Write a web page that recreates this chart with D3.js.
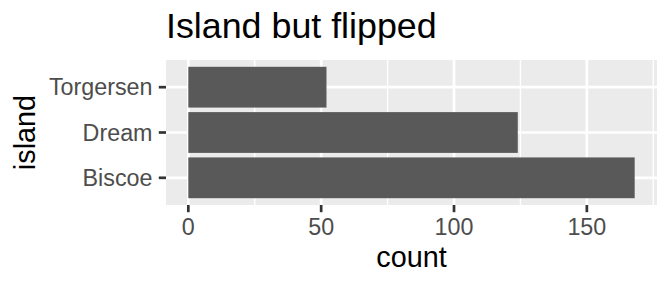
<!DOCTYPE html>
<html><head><meta charset="utf-8">
<script src="https://cdn.jsdelivr.net/npm/d3@7"></script>
<style>body{margin:0;background:#fff}svg{display:block}text{font-family:"Liberation Sans",Arial,sans-serif}</style>
</head><body>
<svg id="c" width="672" height="288"></svg>
<script>
const islands = ["Biscoe", "Dream", "Torgersen"];
const counts = [168, 124, 52];
const xTicks = [0, 50, 100, 150];
const xMinor = [25, 75, 125, 175];

const svg = d3.select("#c");
const L = 166, R = 657, T = 60, B = 205;
const maxV = d3.max(counts);
const x = d3.scaleLinear().domain([-0.05 * maxV, maxV * 1.05]).range([L, R]);
const y = d3.scaleLinear().domain([0.4, islands.length + 0.6]).range([B, T]);

svg.append("rect").attr("x", L).attr("y", T).attr("width", R - L).attr("height", B - T).attr("fill", "#EBEBEB");
svg.selectAll(".minor").data(xMinor).join("line")
  .attr("x1", d => x(d)).attr("x2", d => x(d)).attr("y1", T).attr("y2", B)
  .attr("stroke", "#fff").attr("stroke-width", 1.35);
svg.selectAll(".majx").data(xTicks).join("line")
  .attr("x1", d => x(d)).attr("x2", d => x(d)).attr("y1", T).attr("y2", B)
  .attr("stroke", "#fff").attr("stroke-width", 2.7);
svg.selectAll(".majy").data(islands).join("line")
  .attr("x1", L).attr("x2", R).attr("y1", (d, i) => y(i + 1)).attr("y2", (d, i) => y(i + 1))
  .attr("stroke", "#fff").attr("stroke-width", 2.7);

svg.selectAll(".bar").data(counts).join("rect")
  .attr("x", x(0)).attr("width", d => x(d) - x(0))
  .attr("y", (d, i) => y(i + 1 + 0.45)).attr("height", (d, i) => y(i + 1 - 0.45) - y(i + 1 + 0.45))
  .attr("fill", "#595959");

// y ticks
svg.selectAll(".yt").data(islands).join("line")
  .attr("x1", L - 7.2).attr("x2", L).attr("y1", (d, i) => y(i + 1)).attr("y2", (d, i) => y(i + 1))
  .attr("stroke", "#333").attr("stroke-width", 2.7);
svg.selectAll(".yl").data(islands).join("text")
  .attr("x", 152.5).attr("y", (d, i) => y(i + 1)).attr("dy", "0.355em")
  .attr("text-anchor", "end").attr("font-size", 23.3).attr("fill", "#4D4D4D").text(d => d);

// x ticks
svg.selectAll(".xt").data(xTicks).join("line")
  .attr("x1", d => x(d)).attr("x2", d => x(d)).attr("y1", B).attr("y2", B + 7.2)
  .attr("stroke", "#333").attr("stroke-width", 2.7);
svg.selectAll(".xl").data(xTicks).join("text")
  .attr("x", d => x(d)).attr("y", 234.5)
  .attr("text-anchor", "middle").attr("font-size", 23.3).attr("fill", "#4D4D4D").text(d => d);

svg.append("text").attr("x", (L + R) / 2).attr("y", 266.7).attr("text-anchor", "middle")
  .attr("font-size", 28.8).attr("fill", "#000").text("count");
svg.append("text").attr("transform", `translate(35,${(T + B) / 2}) rotate(-90)`).attr("text-anchor", "middle")
  .attr("font-size", 28.8).attr("fill", "#000").text("island");
svg.append("text").attr("x", L).attr("y", 37.7).attr("font-size", 35.8).attr("fill", "#000").text("Island but flipped");
</script>
</body></html>
